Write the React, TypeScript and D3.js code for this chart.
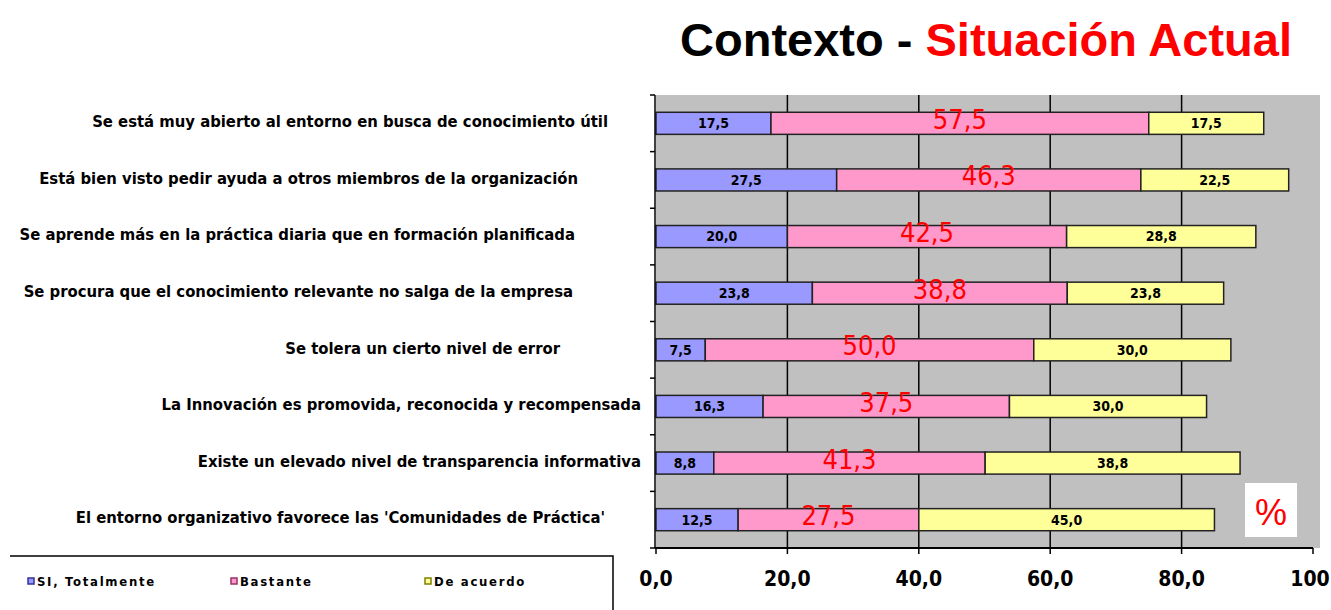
import React from 'react'
import * as d3 from 'd3'

// categorías (de arriba a abajo) y porcentajes por respuesta
const categories = [
    'Se está muy abierto al entorno en busca de conocimiento útil',
    'Está bien visto pedir ayuda a otros miembros de la organización',
    'Se aprende más en la práctica diaria que en formación planificada',
    'Se procura que el conocimiento relevante no salga de la empresa',
    'Se tolera un cierto nivel de error',
    'La Innovación es promovida, reconocida y recompensada',
    'Existe un elevado nivel de transparencia informativa',
    "El entorno organizativo favorece las 'Comunidades de Práctica'",
]
const totalmente = [17.5, 27.5, 20.0, 23.8, 7.5, 16.3, 8.8, 12.5]
const bastante = [57.5, 46.3, 42.5, 38.8, 50.0, 37.5, 41.3, 27.5]
const deAcuerdo = [17.5, 22.5, 28.8, 23.8, 30.0, 30.0, 38.8, 45.0]
const seriesNames = ['SI, Totalmente', 'Bastante', 'De acuerdo']
const xTicks = [0, 20, 40, 60, 80, 100]

const W = 1331, H = 610
const left = 656, right = 1313, top = 95, bottom = 548
const colors = ['#9999ff', '#ff99cc', '#ffff99']
const legendStroke = ['#333399', '#993366', '#808000']
const font = '"Liberation Sans Narrow", "DejaVu Sans Condensed", Arial, sans-serif'
// final de cada etiqueta (el original no las alinea igual)
const labelEnd = [608, 578, 575, 573, 560, 641, 641, 605]

const fmt = (v: number) => (v === 100 ? '100' : d3.format('.1f')(v).replace('.', ','))

const App = () => {
    const x = d3.scaleLinear().domain([0, 100]).range([left, right])
    const y = d3.scaleBand<number>().domain(d3.range(categories.length)).range([top, bottom]).paddingInner(0.61).paddingOuter(0.305)
    const band = d3.scaleBand<number>().domain(d3.range(categories.length)).range([top, bottom])

    const stack = d3.stack<number>().keys(['0', '1', '2']).value((i, k) => [totalmente, bastante, deAcuerdo][+k][i])
    const layers = stack(d3.range(categories.length))

    return (
        <svg width={W} height={H} style={{ position: 'absolute', left: 0, top: 0, background: '#fff' }}>
            {/* título */}
            <text x={986} y={56} textAnchor="middle" fontFamily="Liberation Sans, Arial, sans-serif" fontWeight="bold" fontSize={47}>
                <tspan fill="#000">Contexto - </tspan>
                <tspan fill="#ff0000">Situación Actual</tspan>
            </text>

            {/* área del gráfico */}
            <rect x={left} y={top} width={1320 - left} height={bottom - top} fill="#c0c0c0" />
            {xTicks.slice(1, -1).map(t => (
                <line key={t} x1={x(t)} x2={x(t)} y1={top} y2={bottom} stroke="#000" strokeWidth={1.5} />
            ))}

            {/* barras apiladas */}
            {layers.map((layer, s) => (
                <g key={s}>
                    {layer.map((d, i) => (
                        <rect key={i} x={x(d[0])} y={y(i)} width={x(d[1]) - x(d[0])} height={y.bandwidth()}
                            fill={colors[s]} stroke="#222" strokeWidth={1.5} />
                    ))}
                </g>
            ))}
            {layers.map((layer, s) => (
                <g key={'l' + s}>
                    {layer.map((d, i) => {
                        const cx = (x(d[0]) + x(d[1])) / 2
                        const cy = (y(i) ?? 0) + y.bandwidth() / 2
                        return s === 1 ? (
                            <text key={i} x={cx} y={cy - 4} dy="0.35em" textAnchor="middle" fill="#ff0000"
                                fontFamily={font} fontSize={27}>{fmt(d[1] - d[0])}</text>
                        ) : (
                            <text key={i} x={cx} y={cy} dy="0.35em" textAnchor="middle" fill="#000"
                                fontFamily={font} fontWeight="bold" fontSize={14}>{fmt(d[1] - d[0])}</text>
                        )
                    })}
                </g>
            ))}

            {/* eje vertical */}
            <line x1={left - 1} x2={left - 1} y1={top} y2={bottom} stroke="#000" strokeWidth={1.5} />
            {d3.range(categories.length + 1).map(i => {
                const yy = i < categories.length ? (band(i) ?? 0) : bottom
                return <line key={i} x1={left - 6} x2={left - 1} y1={yy} y2={yy} stroke="#000" strokeWidth={1.5} />
            })}
            {categories.map((c, i) => (
                <text key={c} x={labelEnd[i]} y={(band(i) ?? 0) + band.bandwidth() / 2 - 2} dy="0.35em" textAnchor="end"
                    fontFamily={font} fontWeight="bold" fontSize={16.5} fill="#000">{c}</text>
            ))}

            {/* eje horizontal */}
            <line x1={left - 1} x2={right} y1={bottom} y2={bottom} stroke="#000" strokeWidth={2} />
            {xTicks.map(t => (
                <g key={t}>
                    <line x1={x(t)} x2={x(t)} y1={bottom} y2={bottom + 6} stroke="#000" strokeWidth={1.5} />
                    <text x={Math.min(x(t), 1310)} y={579} dy="0.35em" textAnchor="middle" fontFamily={font}
                        fontWeight="bold" fontSize={21}>{fmt(t)}</text>
                </g>
            ))}

            {/* % */}
            <rect x={1245} y={483} width={52} height={54} fill="#fff" />
            <text x={1271} y={512} dy="0.35em" textAnchor="middle" fill="#ff0000" fontFamily="Liberation Sans, Arial, sans-serif" fontSize={36}>%</text>

            {/* leyenda */}
            <polyline points={`10,556 613,556 613,610`} fill="none" stroke="#000" strokeWidth={1.5} />
            {seriesNames.map((n, i) => {
                const lx = [28, 231, 425][i]
                return (
                    <g key={n}>
                        <rect x={lx} y={578} width={6} height={6} fill={colors[i]} stroke={legendStroke[i]} strokeWidth={1.5} />
                        <text x={lx + 9} y={581} dy="0.35em" fontFamily={font} fontWeight="bold" fontSize={13}
                            letterSpacing={1.7} fill="#000">{n}</text>
                    </g>
                )
            })}
        </svg>
    )
}

export default App
